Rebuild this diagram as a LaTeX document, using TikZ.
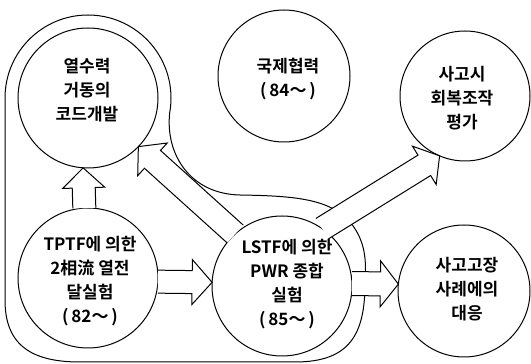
\documentclass[tikz,border=0pt]{standalone}
\usepackage{fontspec}
\newfontfamily\krfont{Noto Sans CJK KR}[BoldFont={Noto Sans CJK KR Bold}]
\usetikzlibrary{calc}
\tikzset{
  circ/.style={circle, draw, line width=1pt, inner sep=0pt, outer sep=0pt},
  txt/.style={font=\krfont\bfseries\fontsize{17}{24}\selectfont, align=center, inner sep=0pt},
  envline/.style={draw, line width=1pt},
  barrow/.style={draw, fill=white, line width=1pt, line join=miter},
}
% block arrow: #1 start, #2 tip, #3 shaft half width, #4 head half width, #5 head length
\newcommand{\blockarr}[5]{%
  \coordinate (bah) at ($(#2)!#5!(#1)$);
  \filldraw[barrow] ($(#1)!#3!90:(#2)$) -- ($(bah)!#3!90:(#2)$) -- ($(bah)!#4!90:(#2)$)
    -- (#2) -- ($(bah)!#4!-90:(#2)$) -- ($(bah)!#3!-90:(#2)$) -- ($(#1)!#3!-90:(#2)$);
}
\begin{document}
\begin{tikzpicture}[x=1pt,y=1pt]
\useasboundingbox (0,0) rectangle (531,364);
% circles
\node[circ, minimum size=140pt] (A) at (88,266) {};
\node[circ, minimum size=132pt] (B) at (284,288) {};
\node[circ, minimum size=130pt] (C) at (465,268) {};
\node[circ, minimum size=140pt] (D) at (88,86) {};
\node[circ, minimum size=140pt] (E) at (282,78) {};
\node[circ, minimum size=132pt] (F) at (464,73) {};
% envelope
\draw[envline] (5,64) -- (5,266) arc[start angle=180, end angle=-10, radius=83]
  .. controls (165,210) and (190,170) .. (240,169)
  .. controls (300,168) and (340,165) .. (358,130)
  .. controls (366,114) and (366,100) .. (365,81)
  .. controls (365,30) and (350,2) .. (295,2)
  -- (80,2)
  .. controls (30,2) and (5,20) .. (5,64) -- cycle;
% arrows
\blockarr{D.93}{A.-94}{11.5pt}{21pt}{20pt}
\blockarr{D.-3}{E.177}{11.5pt}{22.5pt}{20pt}
\blockarr{E.2.5}{F.174}{12pt}{23pt}{18pt}
\blockarr{E.132}{A.-44}{12pt}{22pt}{19pt}
\blockarr{E.55}{C.-113}{12pt}{22.5pt}{18pt}
% texts
\node[txt] (At) at (87,274) {열수력\\거동의\\코드개발};
\node[txt] (Bt) at (288,285) {국제협력\\(\,84～\,)};
\node[txt] (Ct) at (462,266) {사고시\\회복조작\\평가};
\node[txt] (Dt) at (90,83) {TPTF에 의한\\2相流 열전\\달실험\\(\,82～\,)};
\node[txt] (Et) at (287,80) {LSTF에 의한\\PWR 종합\\실험\\(\,85～\,)};
\node[txt] (Ft) at (467,75) {사고고장\\사례에의\\대응};
\end{tikzpicture}
\end{document}
